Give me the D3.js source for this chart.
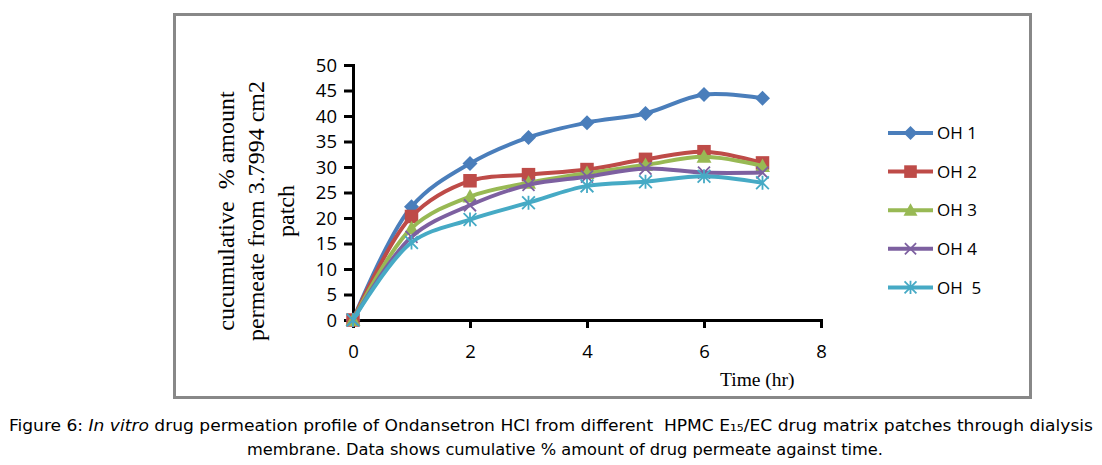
<!DOCTYPE html>
<html>
<head>
<meta charset="utf-8">
<script src="https://cdn.jsdelivr.net/npm/d3@7"></script>
<style>
  body { margin: 0; background: #fff; }
</style>
</head>
<body>
<script>
const width = 1102;
const height = 465;

const hours = [0, 1, 2, 3, 4, 5, 6, 7];
const seriesNames = ["OH 1", "OH 2", "OH 3", "OH 4", "OH  5"];
const oh1 = [0, 22.2, 30.7, 35.8, 38.7, 40.5, 44.2, 43.5];
const oh2 = [0, 20.3, 27.3, 28.5, 29.5, 31.5, 33.0, 30.8];
const oh3 = [0, 18.0, 24.2, 26.9, 28.8, 30.4, 32.0, 30.2];
const oh4 = [0, 16.3, 22.5, 26.5, 28.1, 29.7, 28.9, 28.9];
const oh5 = [0, 15.2, 19.7, 23.0, 26.3, 27.1, 28.2, 26.9];
const xTicks = [0, 2, 4, 6, 8];
const yTicks = [0, 5, 10, 15, 20, 25, 30, 35, 40, 45, 50];

const colors = ["#4A7EBB", "#BE4B48", "#98B954", "#7D60A0", "#46AAC5"];
const shapes = ["diamond", "square", "triangle", "x", "star"];
const allSeries = [oh1, oh2, oh3, oh4, oh5];

const x = d3.scaleLinear().domain([0, 8]).range([353, 821]);
const y = d3.scaleLinear().domain([0, 50]).range([320, 65]);

const svg = d3.select("body").append("svg")
  .attr("width", width).attr("height", height);

// frame
svg.append("rect")
  .attr("x", 174.5).attr("y", 14.5)
  .attr("width", 856).attr("height", 383)
  .attr("fill", "none").attr("stroke", "#888").attr("stroke-width", 3);

// axes
const yAxis = svg.append("g")
  .attr("transform", `translate(${x(0)},0)`)
  .call(d3.axisLeft(y).tickValues(yTicks).tickSize(9).tickPadding(7));
const xAxis = svg.append("g")
  .attr("transform", `translate(0,${y(0)})`)
  .call(d3.axisBottom(x).tickValues(xTicks).tickSize(8).tickPadding(17));
[xAxis, yAxis].forEach((g) => {
  g.select(".domain").attr("stroke", "#000").attr("stroke-width", 3);
  g.selectAll(".tick line").attr("stroke", "#000").attr("stroke-width", 3);
  g.selectAll(".tick text")
    .attr("fill", "#000")
    .style("font-family", "'Open Sans', 'DejaVu Sans', sans-serif")
    .style("font-size", "18.5px");
});
yAxis.selectAll(".tick text").attr("dy", "0.35em");

const line = d3.line()
  .x((d, i) => x(hours[i]))
  .y((d) => y(d))
  .curve(d3.curveCatmullRom.alpha(0.5));

function marker(g, shape, color, cx, cy, s) {
  if (shape === "diamond") {
    g.append("path").attr("d", `M${cx},${cy - s}L${cx + s},${cy}L${cx},${cy + s}L${cx - s},${cy}Z`).attr("fill", color);
  } else if (shape === "square") {
    g.append("rect").attr("x", cx - s * 0.9).attr("y", cy - s * 0.9)
      .attr("width", s * 1.8).attr("height", s * 1.8).attr("fill", color);
  } else if (shape === "triangle") {
    g.append("path").attr("d", `M${cx},${cy - s}L${cx + s},${cy + s * 0.8}L${cx - s},${cy + s * 0.8}Z`).attr("fill", color);
  } else if (shape === "x") {
    const r = s * 0.8;
    g.append("path").attr("d", `M${cx - r},${cy - r}L${cx + r},${cy + r}M${cx - r},${cy + r}L${cx + r},${cy - r}`)
      .attr("stroke", color).attr("stroke-width", 1.8).attr("fill", "none");
  } else {
    const r = s * 0.85;
    g.append("path").attr("d", `M${cx - r},${cy - r}L${cx + r},${cy + r}M${cx - r},${cy + r}L${cx + r},${cy - r}M${cx},${cy - r * 1.1}L${cx},${cy + r * 1.1}`)
      .attr("stroke", color).attr("stroke-width", 1.8).attr("fill", "none");
  }
}

allSeries.forEach((vals, k) => {
  const g = svg.append("g");
  g.append("path").datum(vals).attr("d", line)
    .attr("fill", "none").attr("stroke", colors[k]).attr("stroke-width", 4);
  vals.forEach((v, i) => marker(g, shapes[k], colors[k], x(hours[i]), y(v), 7.5));
});

// legend
const legend = svg.append("g");
seriesNames.forEach((name, k) => {
  const ly = 133 + k * 38.6;
  legend.append("line").attr("x1", 888).attr("x2", 933).attr("y1", ly).attr("y2", ly)
    .attr("stroke", colors[k]).attr("stroke-width", 4);
  marker(legend, shapes[k], colors[k], 910.5, ly, 7);
  legend.append("text").attr("x", 937).attr("y", ly).attr("dy", "0.36em")
    .style("font-family", "'Open Sans', 'DejaVu Sans', sans-serif")
    .style("font-size", "17px").style("white-space", "pre").text(name);
});

// axis titles
const yTitle = ["cucumulative  % amount", "permeate from 3.7994 cm2", "patch"];
yTitle.forEach((t, i) => {
  svg.append("text")
    .attr("transform", `translate(${234 + i * 30},211) rotate(-90)`)
    .attr("text-anchor", "middle")
    .style("font-family", "'Liberation Serif', serif")
    .style("font-size", "24px").style("white-space", "pre").text(t);
});
svg.append("text").attr("x", 720).attr("y", 386)
  .style("font-family", "'Liberation Serif', serif")
  .style("font-size", "19.5px").text("Time (hr)");

// caption
const cap1 = svg.append("text").attr("x", 551).attr("y", 431).attr("text-anchor", "middle")
  .attr("textLength", 1084).attr("lengthAdjust", "spacingAndGlyphs")
  .style("font-family", "'DejaVu Sans Condensed', 'DejaVu Sans', sans-serif")
  .style("font-size", "15px").style("white-space", "pre");
cap1.append("tspan").text("Figure 6: ");
cap1.append("tspan").style("font-style", "italic").text("In vitro");
cap1.append("tspan").text(" drug permeation profile of Ondansetron HCl from different  HPMC E\u2081\u2085/EC drug matrix patches through dialysis");
svg.append("text").attr("x", 565).attr("y", 455).attr("text-anchor", "middle")
  .attr("textLength", 636).attr("lengthAdjust", "spacingAndGlyphs")
  .style("font-family", "'DejaVu Sans Condensed', 'DejaVu Sans', sans-serif")
  .style("font-size", "15px")
  .text("membrane. Data shows cumulative % amount of drug permeate against time.");
</script>
</body>
</html>
